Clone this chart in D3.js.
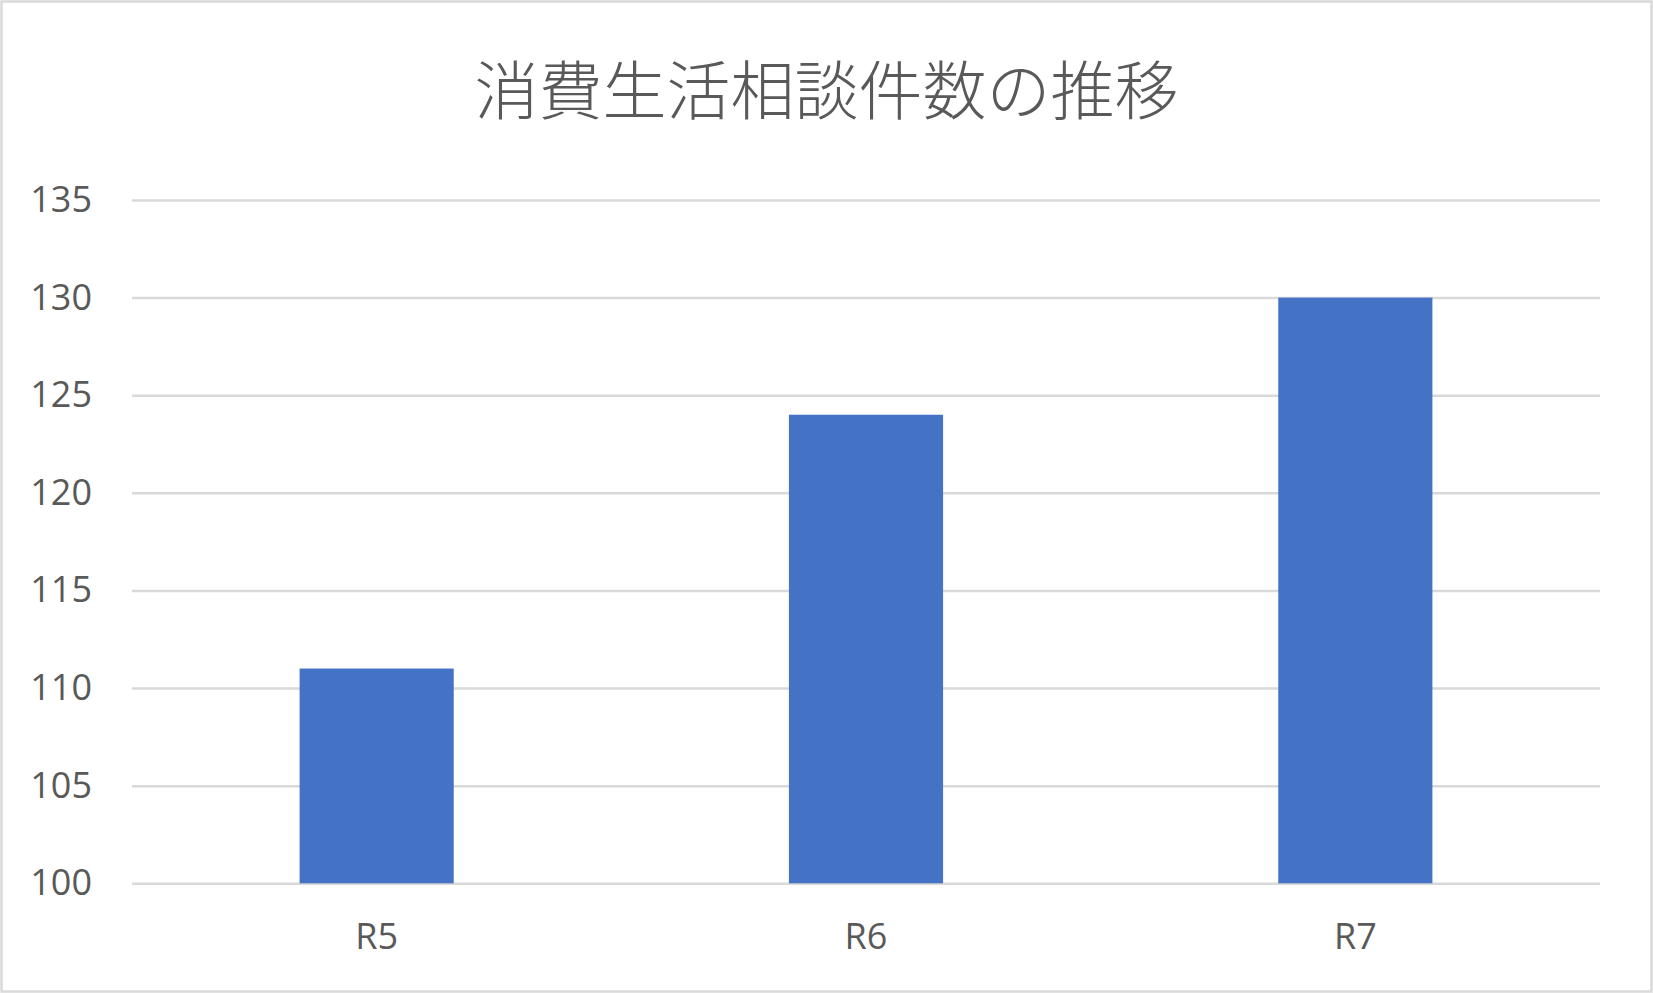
<!DOCTYPE html>
<html lang="ja">
<head>
<meta charset="utf-8">
<title>消費生活相談件数の推移</title>
<script src="https://cdn.jsdelivr.net/npm/d3@7"></script>
<style>
    html, body { margin: 0; padding: 0; background: #fff; }
    svg { display: block; }
</style>
</head>
<body>
<div id="chart"></div>
<script>
const titulo = '消費生活相談件数の推移';
const categorias = ['R5', 'R6', 'R7'];
const valores = [111, 124, 130];
const ticksY = [100, 105, 110, 115, 120, 125, 130, 135];

document.addEventListener('DOMContentLoaded', () => {
    const largura = 1653;
    const altura = 993;
    // area do grafico (medida na imagem)
    const area = { esquerda: 132, direita: 1600, topo: 200, base: 883.3 };

    const svg = d3.select('#chart').append('svg')
        .attr('width', largura)
        .attr('height', altura);

    // borda do grafico
    svg.append('rect')
        .attr('x', 1.5)
        .attr('y', 1.5)
        .attr('width', largura - 3)
        .attr('height', altura - 3)
        .attr('fill', '#fff')
        .attr('stroke', '#d9d9d9')
        .attr('stroke-width', 2.5);

    const x = d3.scaleBand()
        .domain(categorias)
        .range([area.esquerda, area.direita])
        .paddingInner(0.685)
        .paddingOuter(0.3425);

    const y = d3.scaleLinear()
        .domain([100, 135])
        .range([area.base, area.topo]);

    // linhas de grade + rotulos do eixo Y
    const eixoY = d3.axisLeft(y)
        .tickValues(ticksY)
        .tickSize(-(area.direita - area.esquerda))
        .tickPadding(40)
        .tickFormat(d3.format('d'));

    const gY = svg.append('g')
        .attr('transform', `translate(${area.esquerda},0)`)
        .call(eixoY);

    gY.select('.domain').remove();
    gY.selectAll('.tick line')
        .attr('stroke', '#d9d9d9')
        .attr('stroke-width', 2.5);
    gY.selectAll('.tick text')
        .attr('fill', '#595959')
        .attr('font-family', '"Segoe UI", "Open Sans", "Noto Sans", sans-serif')
        .attr('font-size', 36);

    // barras
    svg.append('g')
        .selectAll('rect')
        .data(valores)
        .enter().append('rect')
        .attr('x', (d, i) => x(categorias[i]))
        .attr('y', d => y(d))
        .attr('width', x.bandwidth())
        .attr('height', d => y(100) - y(d))
        .attr('fill', '#4472c4');

    // eixo X (sem linha, so rotulos)
    const eixoX = d3.axisBottom(x)
        .tickSize(0)
        .tickPadding(40);

    const gX = svg.append('g')
        .attr('transform', `translate(0,${area.base})`)
        .call(eixoX);

    gX.select('.domain').remove();
    gX.selectAll('.tick text')
        .attr('fill', '#595959')
        .attr('font-family', '"Segoe UI", "Open Sans", "Noto Sans", sans-serif')
        .attr('font-size', 36);

    // titulo
    svg.append('text')
        .attr('x', largura / 2)
        .attr('y', 86)
        .attr('text-anchor', 'middle')
        .attr('dominant-baseline', 'central')
        .attr('fill', '#595959')
        .attr('font-family', '"Noto Sans CJK JP", sans-serif')
        .attr('font-weight', 300)
        .attr('font-size', 64)
        .text(titulo);
});
</script>
</body>
</html>
